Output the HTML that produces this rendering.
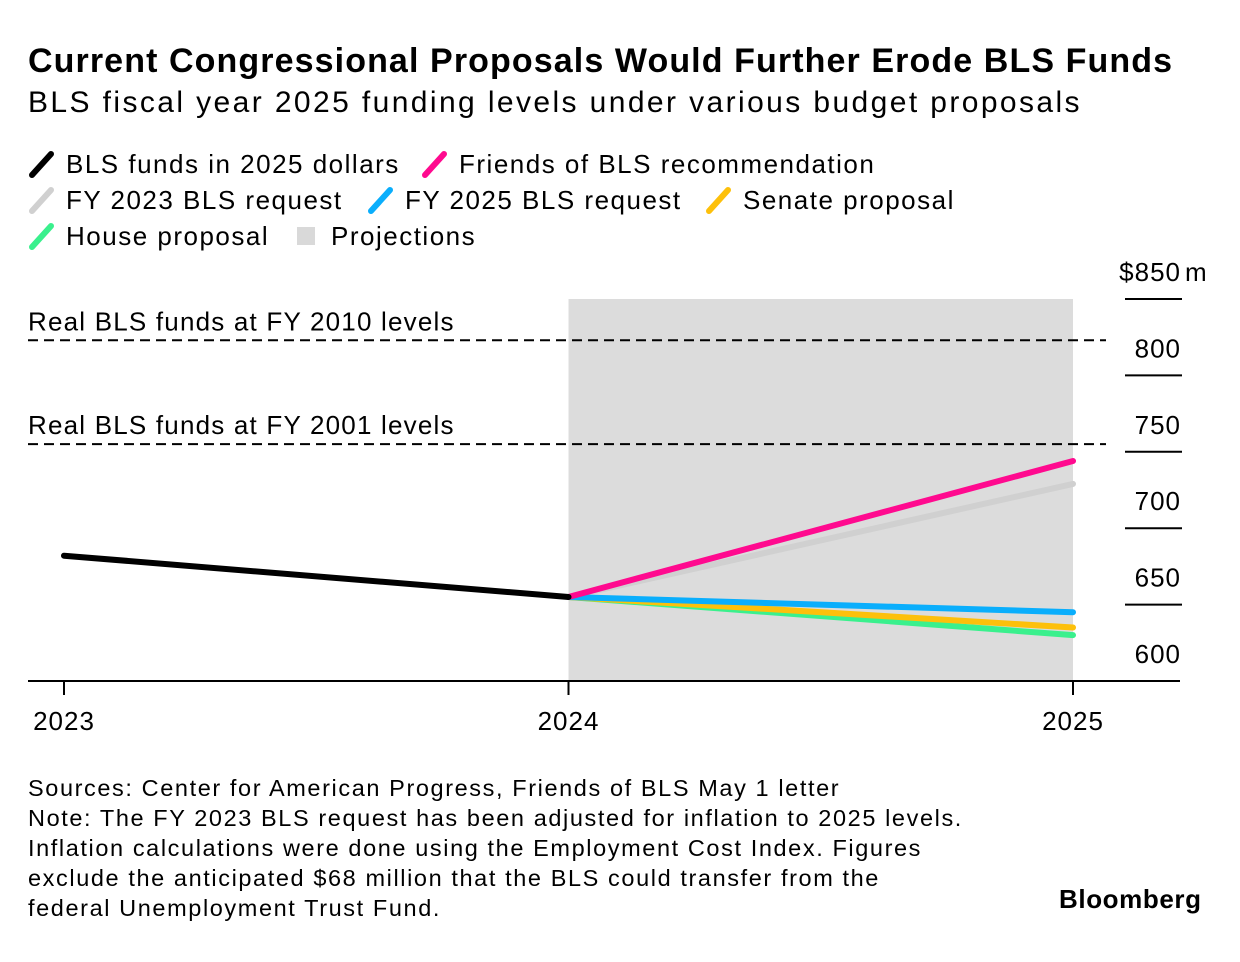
<!DOCTYPE html>
<html><head><meta charset="utf-8">
<style>
body{margin:0;background:#fff;font-family:"Liberation Sans",sans-serif;color:#000}
#wrap{position:relative;width:1240px;height:962px;overflow:hidden}
.t{position:absolute;white-space:nowrap}
</style></head><body>
<div id="wrap">
<div class="t" style="left:28px;top:42px;font-size:34px;font-weight:bold;letter-spacing:1.1px">Current Congressional Proposals Would Further Erode BLS Funds</div>
<div class="t" style="left:28px;top:86px;font-size:30px;letter-spacing:2.4px">BLS fiscal year 2025 funding levels under various budget proposals</div>
<svg id="chart" width="1240" height="962" style="position:absolute;left:0;top:0"></svg>
<div class="t" style="left:28px;top:773px;font-size:23.5px;line-height:30px;letter-spacing:1.6px">Sources: Center for American Progress, Friends of BLS May 1 letter<br>Note: The FY 2023 BLS request has been adjusted for inflation to 2025 levels.<br>Inflation calculations were done using the Employment Cost Index. Figures<br>exclude the anticipated $68 million that the BLS could transfer from the<br>federal Unemployment Trust Fund.</div>
<div class="t" style="left:1059px;top:884px;font-size:26px;font-weight:bold;letter-spacing:0.6px">Bloomberg</div>
</div>
<script>
const years=["2023","2024","2025"];
const yTicks=[600,650,700,750,800,850];
const blsFunds=[682,655];
const friends=[655,744];
const fy2023=[655,729];
const fy2025=[655,645];
const senate=[655,635];
const house=[655,630];
const refValues=[823,755];
const refLabels=["Real BLS funds at FY 2010 levels","Real BLS funds at FY 2001 levels"];
const legendLabels=["BLS funds in 2025 dollars","Friends of BLS recommendation","FY 2023 BLS request","FY 2025 BLS request","Senate proposal","House proposal","Projections"];

const NS="http://www.w3.org/2000/svg";
const svg=document.getElementById('chart');
const x0=64,x1=1073,yBase=681,yTop=299;
const xs=i=>x0+(x1-x0)/(years.length-1)*i;
const ys=v=>yBase-(v-600)/(850-600)*(yBase-yTop);
function mk(tag,attrs){const e=document.createElementNS(NS,tag);for(const k in attrs)e.setAttribute(k,attrs[k]);svg.appendChild(e);return e;}

// legend
const legendPos=[[30,164,'#000'],[423,164,'#ff0a8f'],[30,200,'#d0d0d0'],[369,200,'#0aaefc'],[707,200,'#fdc00b'],[30,236,'#3af08d'],[295,236,'sq']];
legendPos.forEach((p,i)=>{
  let m;
  if(p[2]==='sq'){m=mk('rect',{x:p[0]+2,y:p[1]-9,width:18,height:18,fill:'#d9d9d9'});}
  else{m=mk('line',{x1:p[0]+2,y1:p[1]+11,x2:p[0]+21,y2:p[1]-10,stroke:p[2],'stroke-width':6,'stroke-linecap':'round'});}
  
  
  const t=mk('text',{x:p[0]+36,y:p[1]+9,'font-size':26,'letter-spacing':1.5});
  t.textContent=legendLabels[i];
  
  
});

// projection shading
const sh=mk('rect',{x:xs(1),y:yTop,width:xs(2)-xs(1),height:yBase-yTop,fill:'#dcdcdc'});



// y ticks
yTicks.forEach((v,i)=>{
  if(i>0){const l=mk('line',{x1:1125,x2:1182,y1:ys(v),y2:ys(v),stroke:'#000','stroke-width':2});
  
  }
  const t=mk('text',{x:1181,y:ys(v)-18,'font-size':26,'text-anchor':'end','letter-spacing':1});
  t.textContent=(i===yTicks.length-1?'$':'')+v;
  
  
  if(i===yTicks.length-1){const m=mk('text',{x:1185,y:ys(v)-18,'font-size':26});m.textContent='m';
  
  }
});

// reference lines
refValues.forEach((v,i)=>{
  const l=mk('line',{x1:28,x2:1106,y1:ys(v),y2:ys(v),stroke:'#000','stroke-width':2,'stroke-dasharray':'10,6'});
  
  
  const t=mk('text',{x:28,y:ys(v)-10,'font-size':26,'letter-spacing':1.2});
  t.textContent=refLabels[i];
  
  
});

// axis
const ax=mk('line',{x1:28,x2:1180,y1:yBase,y2:yBase,stroke:'#000','stroke-width':2});


years.forEach((y,i)=>{
  const l=mk('line',{x1:xs(i),x2:xs(i),y1:yBase,y2:yBase+14,stroke:'#000','stroke-width':2});
  
  
  const t=mk('text',{x:xs(i),y:730,'font-size':26,'text-anchor':'middle','letter-spacing':1});
  t.textContent=y;
  
  
});

// series
function series(vals,start,color,name){
  const pts=vals.map((v,i)=>xs(start+i)+','+ys(v)).join(' ');
  const p=mk('polyline',{points:pts,fill:'none',stroke:color,'stroke-width':6,'stroke-linecap':'round','stroke-linejoin':'round'});
  
  
}
series(fy2023,1,'#d0d0d0','fy2023-request-line');
series(house,1,'#3af08d','house-proposal-line');
series(senate,1,'#fdc00b','senate-proposal-line');
series(fy2025,1,'#0aaefc','fy2025-request-line');
series(friends,1,'#ff0a8f','friends-of-bls-line');
series(blsFunds,0,'#000','bls-funds-line');
</script>
</body></html>
